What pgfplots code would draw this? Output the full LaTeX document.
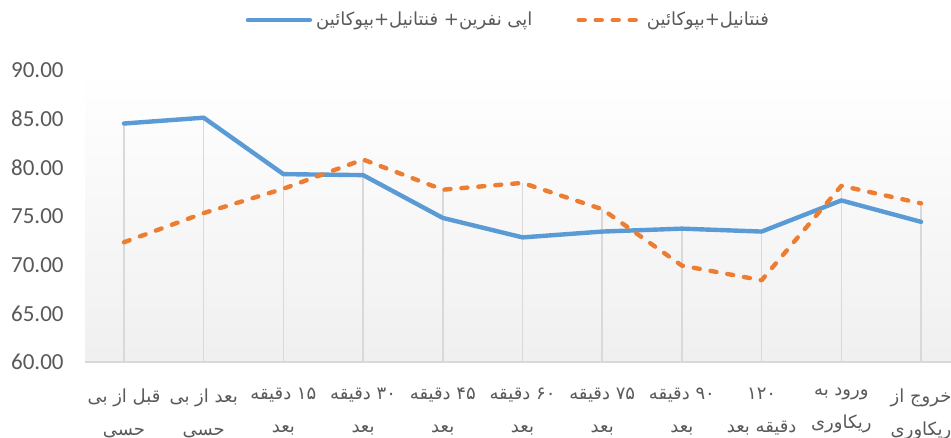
\documentclass[border=0pt]{standalone}
\usepackage{pgfplots}
\pgfplotsset{compat=1.18}
\usepackage{fontspec}
\setmainfont{Carlito}
\newfontfamily\arabicfont[Script=Arabic]{DejaVu Sans}
\TeXXeTstate=1
\definecolor{cblue}{HTML}{5B9BD5}
\definecolor{corange}{HTML}{ED7D31}
\definecolor{tgray}{HTML}{595959}
\definecolor{lgray}{HTML}{D9D9D9}
\begin{document}
\begin{tikzpicture}
\path[use as bounding box] (0,0) rectangle (475.5pt,219pt);
\begin{axis}[
  at={(42.5pt,38pt)}, anchor=south west,
  scale only axis, width=433pt, height=146pt,
  xmin=-0.489, xmax=10.376, ymin=60, ymax=90,
  axis x line*=bottom, axis y line*=left,
  x axis line style={draw=lgray, line width=0.8pt, -},
  y axis line style={draw=none},
  axis background/.style={shade, top color=white, bottom color=black!6},
  major tick length=0pt,
  ytick={60,65,70,75,80,85,90},
  /pgf/number format/assume math mode=true,
  yticklabel={\pgfmathprintnumber[fixed, fixed zerofill, precision=2]{\tick}},
  yticklabel style={anchor=east, inner sep=0pt, xshift=-10.5pt, font=\fontsize{11.5}{13}\selectfont, text=tgray},
  xtick={0,1,2,3,4,5,6,7,8,9,10},
  xticklabels={
    {\beginR قبل از بی\endR\\\beginR حسی\endR},
    {\beginR بعد از بی\endR\\\beginR حسی\endR},
    {\beginR ۱۵ دقیقه\endR\\\beginR بعد\endR},
    {\beginR ۳۰ دقیقه\endR\\\beginR بعد\endR},
    {\beginR ۴۵ دقیقه\endR\\\beginR بعد\endR},
    {\beginR ۶۰ دقیقه\endR\\\beginR بعد\endR},
    {\beginR ۷۵ دقیقه\endR\\\beginR بعد\endR},
    {\beginR ۹۰ دقیقه\endR\\\beginR بعد\endR},
    {\beginR ۱۲۰\endR\\\beginR دقیقه بعد\endR},
    {\beginR ورود به\endR\\\beginR ریکاوری\endR},
    {\beginR خروج از\endR\\\beginR ریکاوری\endR}},
  xticklabel style={font=\arabicfont\fontsize{9}{16.5}\selectfont, text=tgray, align=center, anchor=north, inner sep=0pt, yshift=-13pt},
  legend style={at={(0.49,1.171)}, anchor=center, draw=none, fill=none, legend columns=2,
    font=\arabicfont\fontsize{9}{12}\selectfont, text=tgray,
    /tikz/every even column/.append style={column sep=20pt}},
  legend image code/.code={\draw[#1] (0pt,0pt) -- (31pt,0pt);},
]
\addplot[ycomb, draw=lgray, line width=0.8pt, forget plot] coordinates {
(0,84.5)(1,85.1)(2,79.3)(3,79.2)(4,74.8)(5,72.8)(6,73.4)(7,73.7)(8,73.4)(9,76.6)(10,74.4)};
\addplot[ycomb, draw=lgray, line width=0.8pt, forget plot] coordinates {
(0,72.3)(1,75.3)(2,77.8)(3,80.8)(4,77.7)(5,78.4)(6,75.7)(7,69.9)(8,68.4)(9,78.1)(10,76.3)};
\addplot[cblue, line width=2.2pt, line join=round, line cap=round] coordinates {
(0,84.5)(1,85.1)(2,79.3)(3,79.2)(4,74.8)(5,72.8)(6,73.4)(7,73.7)(8,73.4)(9,76.6)(10,74.4)};
\addlegendentry{\beginR اپی نفرین+ فنتانیل+بپوکائین\endR}
\addplot[corange, line width=2.2pt, line join=round, line cap=round, dash pattern=on 3pt off 5.5pt] coordinates {
(0,72.3)(1,75.3)(2,77.8)(3,80.8)(4,77.7)(5,78.4)(6,75.7)(7,69.9)(8,68.4)(9,78.1)(10,76.3)};
\addlegendentry{\beginR فنتانیل+بپوکائین\endR}
\end{axis}
\end{tikzpicture}
\end{document}
